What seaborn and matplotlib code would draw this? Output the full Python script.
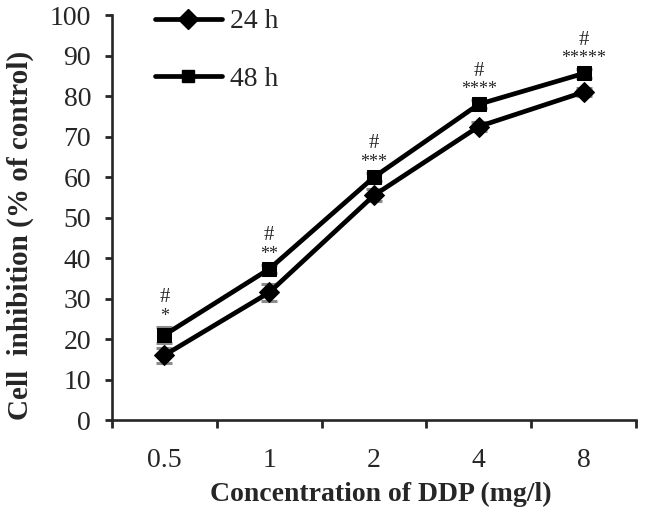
import pandas as pd
import matplotlib.pyplot as plt
import seaborn as sns
from matplotlib.lines import Line2D

# Data
concentrations = ['0.5', '1', '2', '4', '8']
inhib_24h = [16.0, 31.5, 55.5, 72.5, 81.0]
err_24h = [1.8, 2.1, 1.5, 1.0, 1.0]
inhib_48h = [21.0, 37.3, 60.0, 78.0, 85.6]
err_48h = [2.0, 1.0, 1.0, 1.0, 1.0]
stars = ['*', '**', '***', '****', '*****']

df = pd.DataFrame({
    'conc': concentrations * 2,
    'value': inhib_24h + inhib_48h,
    'err': err_24h + err_48h,
    'time': ['24 h'] * 5 + ['48 h'] * 5,
})

sns.set_style("ticks")
plt.rcParams['font.family'] = ['Liberation Serif', 'DejaVu Serif']

fig = plt.figure(figsize=(6.46, 5.17), dpi=100)
ax = fig.add_axes([0.1734, 0.1876, 0.811, 0.783])

# Error bars (gray)
for t in ['24 h', '48 h']:
    sub = df[df['time'] == t]
    ax.errorbar(range(5), sub['value'], yerr=sub['err'], fmt='none',
                ecolor='#8c8c8c', elinewidth=2, capsize=5.5, capthick=2.2, zorder=1)

sns.lineplot(data=df, x='conc', y='value', hue='time', style='time',
             markers={'24 h': 'D', '48 h': 's'}, dashes=False,
             palette={'24 h': 'black', '48 h': 'black'},
             linewidth=3.4, markersize=10, markeredgecolor='black',
             ax=ax, legend=False, zorder=3)

# Significance marks above the 48 h points
for i, v in enumerate(inhib_48h):
    ax.text(i, v + err_48h[i] + 2.6, stars[i], ha='center', va='center', fontsize=13)
    ax.text(i, v + err_48h[i] + 7.2, '#', ha='center', va='center', fontsize=15)

ax.set_xlim(-0.5, 4.5)
ax.set_ylim(0, 100)
ax.set_yticks(range(0, 101, 10))
ax.set_xticks([-0.5, 0.5, 1.5, 2.5, 3.5, 4.5], minor=False)
ax.set_xticklabels([])
ax.set_xticks(range(5), minor=True)
ax.set_xticklabels(concentrations, minor=True)
ax.tick_params(axis='x', which='minor', length=0, labelsize=20, pad=20)
ax.tick_params(axis='x', which='major', length=6, width=2, direction='out')
ax.tick_params(axis='y', length=5, width=2, direction='out', labelsize=20, pad=10)

for s in ['top', 'right']:
    ax.spines[s].set_visible(False)
for s in ['left', 'bottom']:
    ax.spines[s].set_linewidth(1.9)

ax.set_xlabel('Concentration of DDP (mg/l)', fontsize=20, fontweight='bold')
ax.set_ylabel('Cell  inhibition (% of control)', fontsize=21, fontweight='bold')
ax.xaxis.label.set_va('center')
ax.yaxis.label.set_va('center')
ax.xaxis.set_label_coords(0.513, -0.183)
ax.yaxis.set_label_coords(-0.175, 0.457)

handles = [Line2D([], [], color='black', lw=3.4, marker='D', markersize=10),
           Line2D([], [], color='black', lw=3.4, marker='s', markersize=9)]
fig.legend(handles, ['24 h', '48 h'], loc='upper left',
           bbox_to_anchor=(155 / 646, 1 - 9 / 517), bbox_transform=fig.transFigure,
           frameon=False, fontsize=20, handlelength=2.4, labelspacing=1.15,
           handletextpad=0.3, borderpad=0, borderaxespad=0)

fig.savefig('out.png', dpi=100)
